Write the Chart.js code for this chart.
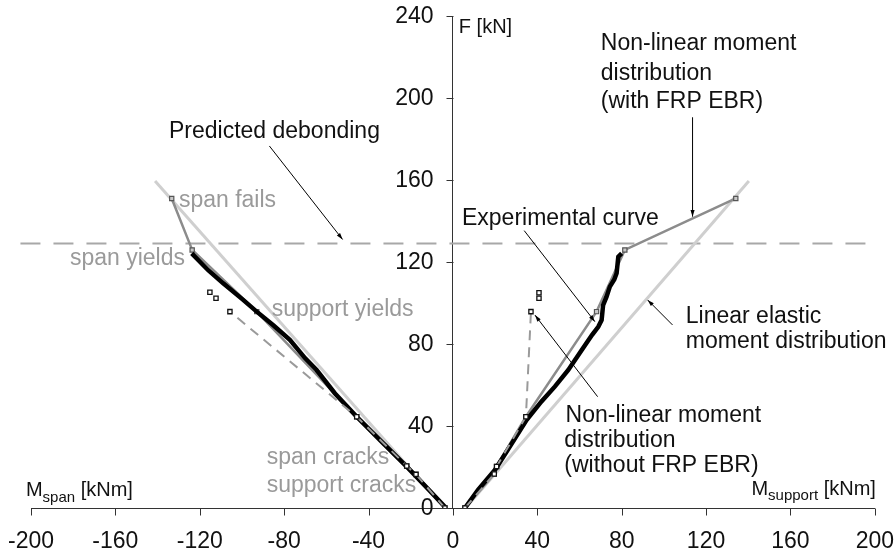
<!DOCTYPE html>
<html>
<head>
<meta charset="utf-8">
<script src="https://cdn.jsdelivr.net/npm/chart.js@4.4.1/dist/chart.umd.min.js"></script>
<style>
  html, body { margin: 0; padding: 0; background: #fff; }
  #wrap { width: 896px; height: 556px; }
</style>
</head>
<body>
<div id="wrap"><canvas id="momentChart"></canvas></div>
<script>
// load F [kN] against moment [kNm]; span moments to the left (negative), support moments to the right
var xTicks = [-200, -160, -120, -80, -40, 0, 40, 80, 120, 160, 200];
var yTicks = [0, 40, 80, 120, 160, 200, 240];

// experimental curve
var expSpanM = [-3.8, -12, -21.9, -33, -45.6, -56, -64.6, -70, -77.3, -85, -93, -100, -108.9, -116, -123.8];
var expSpanF = [0.6, 9.5, 20.2, 31.5, 44.5, 56, 67.3, 73, 82, 89, 95.8, 102, 109.6, 116, 124.2];
var expSuppM = [5.7, 12, 19.9, 27, 34.9, 42, 48.3, 54.7, 61, 66, 68.9, 70.5, 71.2, 72.8, 74.4, 76.5, 77.6, 78.4, 80];
var expSuppF = [0, 9, 18.5, 30, 42.9, 52, 59.2, 67.3, 77, 84.5, 88.4, 91.7, 99, 103, 108, 111.5, 114.5, 122.6, 124.2];

// non-linear moment distribution with FRP EBR
var frpSpanM = [-3.8, -17.5, -21.9, -45.6, -93, -123.6, -133.3];
var frpSpanF = [0, 16.4, 20.5, 44.5, 95.8, 125.9, 151];
var frpSuppM = [5.7, 19.6, 20.7, 34.6, 68.1, 81.5, 134.1];
var frpSuppF = [0, 16.6, 20.2, 44.5, 95.8, 125.9, 151];

// non-linear moment distribution without FRP EBR
var noSpanM = [-3.8, -17.5, -21.9, -45.6, -105.7, -112.3, -115.2];
var noSpanF = [0, 16.4, 20.5, 44.5, 95.8, 102.3, 105.2];
var noSuppM = [5.7, 19.6, 20.7, 34.6, 37, 40.8, 40.8];
var noSuppF = [0, 16.6, 20.2, 44.5, 95.8, 102.3, 105];

// linear elastic moment distribution
var linSpanM = [-3.8, -141.2];
var linSpanF = [0, 159.5];
var linSuppM = [6, 140.3];
var linSuppF = [0, 159.5];

// predicted debonding load
var debondM = [-205, 200];
var debondF = [129, 129];

var FONT = "'Liberation Sans', Arial, sans-serif";
var BLACK = '#111';
var GREY_TXT = '#9a9a9a';

function pts(ms, fs) {
  return ms.map(function (m, i) { return { x: m, y: fs[i] }; });
}

// annotation texts, placed in axis units
var notes = [
  { t: 'Predicted debonding', m: -84.6, f: 184.4, align: 'center', c: BLACK },
  { t: 'Non-linear moment', m: 70.1, f: 227.7, c: BLACK },
  { t: 'distribution', m: 70.1, f: 212.7, c: BLACK },
  { t: '(with FRP EBR)', m: 70.1, f: 199.4, c: BLACK },
  { t: 'Experimental curve', m: 4.3, f: 142.1, c: BLACK },
  { t: 'Linear elastic', m: 110.4, f: 94.1, c: BLACK },
  { t: 'moment distribution', m: 110.4, f: 82, c: BLACK },
  { t: 'Non-linear moment', m: 53.4, f: 46.2, c: BLACK },
  { t: 'distribution', m: 52.8, f: 34, c: BLACK },
  { t: '(without FRP EBR)', m: 52.8, f: 21.8, c: BLACK },
  { t: 'span fails', m: -129.9, f: 151.1, c: GREY_TXT },
  { t: 'span yields', m: -127, f: 122.6, align: 'right', c: GREY_TXT },
  { t: 'support yields', m: -85.9, f: 97.9, c: GREY_TXT },
  { t: 'span cracks', m: -88.3, f: 25.4, c: GREY_TXT },
  { t: 'support cracks', m: -88.3, f: 12, c: GREY_TXT }
];

// pointer arrows [fromM, fromF, toM, toF], head at "to"
var arrows = [
  [-87, 176.6, -52.3, 131],
  [113.6, 190.6, 113.6, 142.1],
  [33.8, 135.3, 67.3, 90.9],
  [104.1, 89.3, 92.3, 101.5],
  [68.6, 54.3, 38.9, 94.1]
];

var notesPlugin = {
  id: 'notes',
  afterDatasetsDraw: function (chart) {
    var ctx = chart.ctx;
    var sx = chart.scales.x, sy = chart.scales.y;
    var x0 = Math.round(sx.getPixelForValue(0)) + 0.5;
    var y0 = Math.round(sy.getPixelForValue(0)) + 0.5;
    ctx.save();

    // tick marks: left of the y axis, below the x axis
    ctx.strokeStyle = '#333';
    ctx.lineWidth = 1;
    ctx.beginPath();
    sx.ticks.forEach(function (tk) {
      var px = Math.round(sx.getPixelForValue(tk.value)) + 0.5;
      ctx.moveTo(px, y0);
      ctx.lineTo(px, y0 + 7);
    });
    sy.ticks.forEach(function (tk) {
      var py = Math.round(sy.getPixelForValue(tk.value)) + 0.5;
      ctx.moveTo(x0 - 7, py);
      ctx.lineTo(x0, py);
    });
    ctx.stroke();

    // y tick labels
    ctx.fillStyle = BLACK;
    ctx.font = '23px ' + FONT;
    ctx.textAlign = 'right';
    ctx.textBaseline = 'middle';
    sy.ticks.forEach(function (tk) {
      ctx.fillText(String(tk.value), x0 - 20, sy.getPixelForValue(tk.value) + 1);
    });

    // arrows
    ctx.strokeStyle = '#000';
    ctx.fillStyle = '#000';
    ctx.lineWidth = 1;
    arrows.forEach(function (a) {
      var x1 = sx.getPixelForValue(a[0]), y1 = sy.getPixelForValue(a[1]);
      var x2 = sx.getPixelForValue(a[2]), y2 = sy.getPixelForValue(a[3]);
      ctx.beginPath();
      ctx.moveTo(x1, y1);
      ctx.lineTo(x2, y2);
      ctx.stroke();
      var ang = Math.atan2(y2 - y1, x2 - x1);
      ctx.beginPath();
      ctx.moveTo(x2, y2);
      ctx.lineTo(x2 - 7 * Math.cos(ang - 0.3), y2 - 7 * Math.sin(ang - 0.3));
      ctx.lineTo(x2 - 7 * Math.cos(ang + 0.3), y2 - 7 * Math.sin(ang + 0.3));
      ctx.closePath();
      ctx.fill();
    });

    // texts
    ctx.textBaseline = 'middle';
    ctx.font = '23px ' + FONT;
    notes.forEach(function (n) {
      ctx.fillStyle = n.c;
      ctx.textAlign = n.align || 'left';
      ctx.fillText(n.t, sx.getPixelForValue(n.m), sy.getPixelForValue(n.f) + 2);
    });

    // axis titles
    ctx.fillStyle = BLACK;
    ctx.font = '20px ' + FONT;
    ctx.textAlign = 'left';
    ctx.fillText('F [kN]', sx.getPixelForValue(2.8), sy.getPixelForValue(235.6) + 2);
    subTitle(ctx, 'span', sx.getPixelForValue(-202.4), sy.getPixelForValue(8.8) + 1, 'left');
    subTitle(ctx, 'support', sx.getPixelForValue(200.5), sy.getPixelForValue(9.6) + 1, 'right');
    ctx.restore();
  }
};

function subTitle(ctx, sub, x, y, align) {
  var big = '20px ' + FONT, small = '15px ' + FONT;
  ctx.textAlign = 'left';
  ctx.font = big;
  var wM = ctx.measureText('M').width;
  var wT = ctx.measureText(' [kNm]').width;
  ctx.font = small;
  var wS = ctx.measureText(sub).width;
  var x0 = align === 'right' ? x - (wM + wS + wT) : x;
  ctx.font = big;
  ctx.fillText('M', x0, y);
  ctx.font = small;
  ctx.fillText(sub, x0 + wM, y + 7);
  ctx.font = big;
  ctx.fillText(' [kNm]', x0 + wM + wS, y);
}

var frpStyle = {
  showLine: true, borderColor: '#8c8c8c', borderWidth: 2.5,
  pointStyle: 'rect', pointRadius: 3, pointBorderWidth: 1.2,
  pointBorderColor: '#555', pointBackgroundColor: '#c8c8c8', order: 3
};
var noStyle = {
  showLine: true, borderColor: '#9a9a9a', borderWidth: 2, borderDash: [10, 7],
  pointStyle: 'rect', pointRadius: 3, pointBorderWidth: 1.3,
  pointBorderColor: '#111', pointBackgroundColor: '#fff', order: 1,
  segment: { borderColor: function (c) { return c.p0DataIndex >= 4 ? 'rgba(0,0,0,0)' : undefined; } }
};
var expStyle = { showLine: true, borderColor: '#000', borderWidth: 4.5, pointRadius: 0, order: 2 };
var linStyle = { showLine: true, borderColor: '#cfcfcf', borderWidth: 3, pointRadius: 0, order: 5 };

function ds(style, data) {
  return Object.assign({ data: data, fill: false, tension: 0 }, style);
}

var datasets = [
  ds(linStyle, pts(linSpanM, linSpanF)),
  ds(linStyle, pts(linSuppM, linSuppF)),
  ds({ showLine: true, borderColor: '#a8a8a8', borderWidth: 2, borderDash: [20, 13], pointRadius: 0, order: 6, clip: false },
     pts(debondM, debondF)),
  ds(frpStyle, pts(frpSpanM, frpSpanF)),
  ds(frpStyle, pts(frpSuppM, frpSuppF)),
  ds(expStyle, pts(expSpanM, expSpanF)),
  ds(expStyle, pts(expSuppM, expSuppF)),
  ds(noStyle, pts(noSpanM, noSpanF)),
  ds(noStyle, pts(noSuppM, noSuppF))
];

var tickFont = { family: FONT, size: 23 };

var ctx = document.getElementById('momentChart').getContext('2d');
var momentChart = new Chart(ctx, {
  type: 'scatter',
  data: { datasets: datasets },
  options: {
    responsive: true,
    maintainAspectRatio: false,
    animation: false,
    layout: { padding: { left: 31, right: 21, top: 16, bottom: 48 } },
    plugins: { legend: { display: false }, tooltip: { enabled: false } },
    scales: {
      x: {
        type: 'linear', min: -200, max: 200,
        position: { y: 0 },
        afterBuildTicks: function (s) { s.ticks = xTicks.map(function (v) { return { value: v }; }); },
        grid: { drawOnChartArea: false, drawTicks: true, tickLength: 18, tickColor: 'rgba(0,0,0,0)' },
        border: { display: true, color: '#333', width: 1 },
        ticks: { color: BLACK, font: tickFont, padding: 2, maxRotation: 0, autoSkip: false }
      },
      y: {
        type: 'linear', min: 0, max: 240,
        position: { x: 0 },
        afterBuildTicks: function (s) { s.ticks = yTicks.map(function (v) { return { value: v }; }); },
        grid: { drawOnChartArea: false, drawTicks: false },
        border: { display: true, color: '#333', width: 1 },
        ticks: { display: false }
      }
    }
  },
  plugins: [notesPlugin]
});
</script>
</body>
</html>
